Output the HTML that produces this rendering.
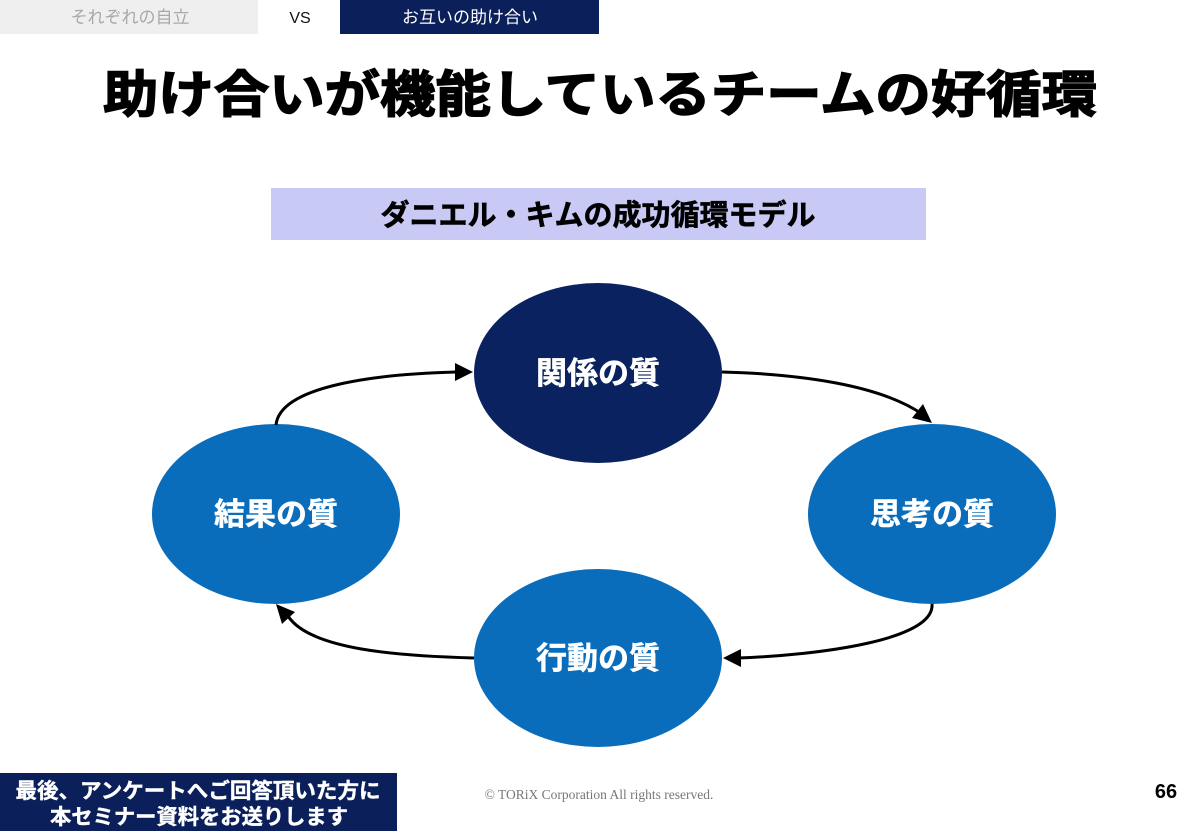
<!DOCTYPE html>
<html><head><meta charset="utf-8"><style>
html,body{margin:0;padding:0;background:#fff;}
body{width:1200px;height:831px;overflow:hidden;position:relative;font-family:"Liberation Sans","Noto Sans CJK JP",sans-serif;}
</style></head><body>
<svg width="1200" height="831" viewBox="0 0 1200 831" xmlns="http://www.w3.org/2000/svg" style="position:absolute;left:0;top:0">
<rect x="0" y="0" width="258" height="34" fill="#efefef"/>
<text x="130" y="23" font-size="17" fill="#a8a8a8" text-anchor="middle" font-family="Liberation Sans, Noto Sans CJK JP, sans-serif">それぞれの自立</text>
<text x="300" y="23" font-size="16" fill="#111" text-anchor="middle" font-family="Liberation Sans, sans-serif">VS</text>
<rect x="340" y="0" width="259" height="34" fill="#0b1f5b"/>
<text x="470" y="23" font-size="17" fill="#fff" text-anchor="middle" font-family="Liberation Sans, Noto Sans CJK JP, sans-serif">お互いの助け合い</text>

<text x="600" y="112" font-size="50" font-weight="bold" fill="#000" stroke="#000" stroke-width="1.5" text-anchor="middle" font-family="Liberation Sans, Noto Sans CJK JP, sans-serif" textLength="994" lengthAdjust="spacingAndGlyphs">助け合いが機能しているチームの好循環</text>

<rect x="271" y="188" width="655" height="52" fill="#c9c9f5"/>
<text x="598" y="225" font-size="29" font-weight="bold" fill="#000" stroke="#000" stroke-width="0.6" text-anchor="middle" font-family="Liberation Sans, Noto Sans CJK JP, sans-serif">ダニエル・キムの成功循環モデル</text>

<ellipse cx="598" cy="373" rx="124" ry="90" fill="#0a2360"/>
<ellipse cx="276" cy="514" rx="124" ry="90" fill="#0a6dbb"/>
<ellipse cx="932" cy="514" rx="124" ry="90" fill="#0a6dbb"/>
<ellipse cx="598" cy="658" rx="124" ry="89" fill="#0a6dbb"/>
<g font-size="31" font-weight="bold" fill="#fff" stroke="#fff" stroke-width="0.5" text-anchor="middle" font-family="Liberation Sans, Noto Sans CJK JP, sans-serif">
<text x="598" y="384">関係の質</text>
<text x="276" y="525">結果の質</text>
<text x="932" y="525">思考の質</text>
<text x="598" y="669">行動の質</text>
</g>

<g fill="none" stroke="#000" stroke-width="3">
<path d="M276,425 C280,385 380,374 456,372"/>
<path d="M722,372 C800,374 880,385 922,414"/>
<path d="M932,604 C935,640 820,655 738,658"/>
<path d="M474,658 C400,656 310,650 288,616"/>
</g>
<g fill="#000">
<polygon points="473,372 455,363 455,381"/>
<polygon points="932,423 912,418 923,404"/>
<polygon points="723,658 741,649 741,667"/>
<polygon points="276,604 295,612 282,624"/>
</g>

<rect x="0" y="773" width="397" height="58" fill="#0b1f5b"/>
<g font-size="21" font-weight="bold" fill="#fff" stroke="#fff" stroke-width="0.4" text-anchor="middle" font-family="Liberation Sans, Noto Sans CJK JP, sans-serif">
<text x="198" y="798" textLength="365" lengthAdjust="spacingAndGlyphs">最後、アンケートへご回答頂いた方に</text>
<text x="199" y="824" textLength="298" lengthAdjust="spacingAndGlyphs">本セミナー資料をお送りします</text>
</g>
<text x="599" y="799" font-size="13.5" fill="#777" text-anchor="middle" font-family="Liberation Serif, serif">© TORiX Corporation All rights reserved.</text>
<text x="1166" y="798" font-size="20" font-weight="bold" fill="#000" text-anchor="middle" font-family="Liberation Sans, sans-serif">66</text>
</svg>
</body></html>
